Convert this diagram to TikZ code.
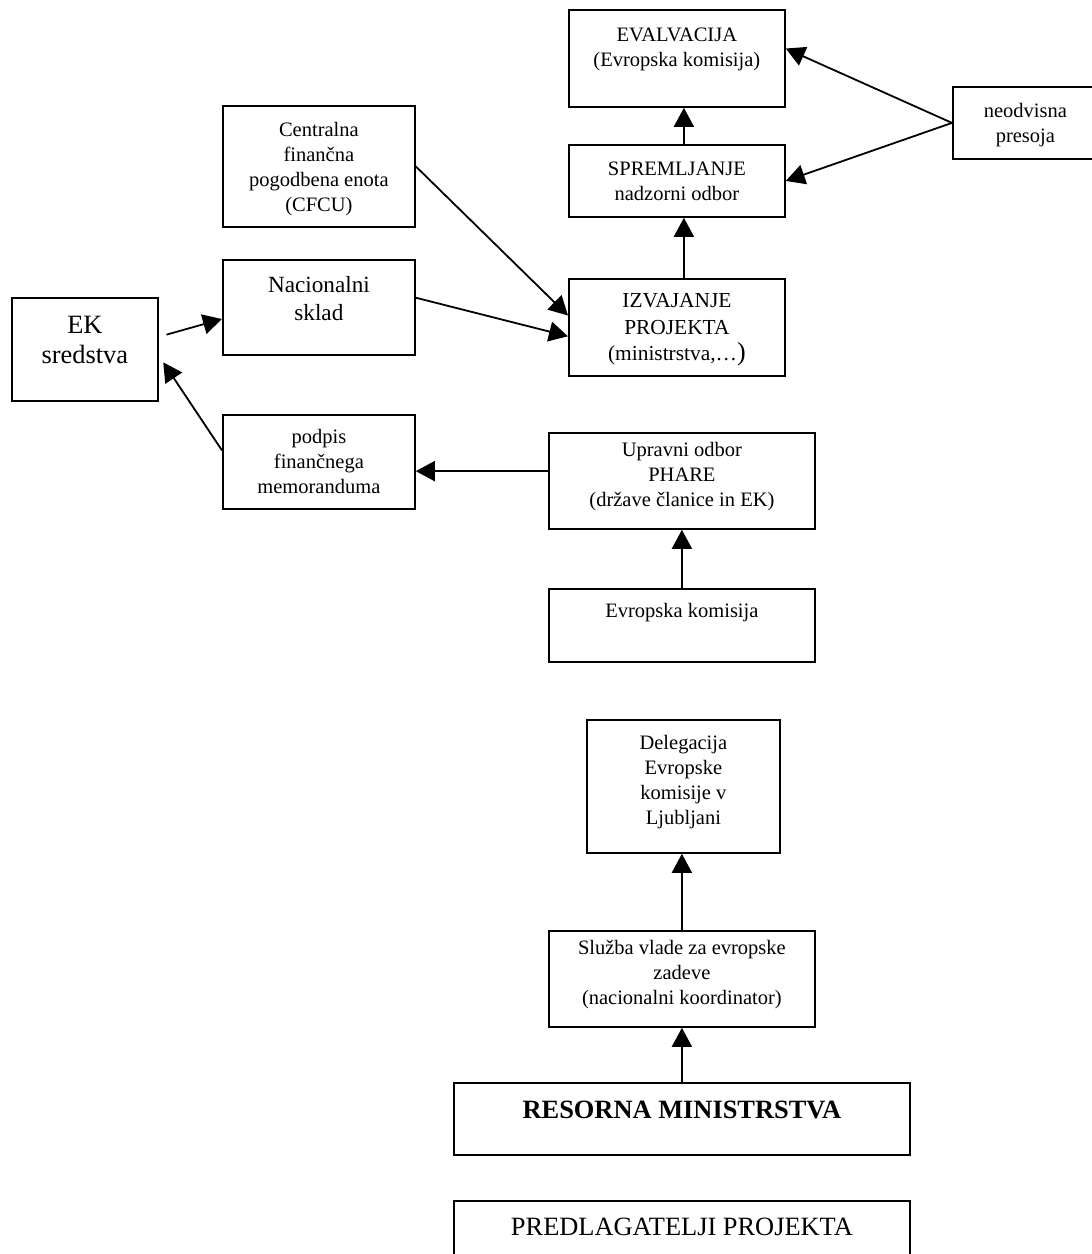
\documentclass[tikz,border=0pt]{standalone}
\usepackage{fontspec}
\setmainfont{Liberation Serif}
\usepackage{tikz}
\usetikzlibrary{arrows.meta, calc}

\newdimen\pxu \pxu=0.5pt
% text of a box: width, height, first baseline, lines (top aligned)
\newcommand{\blok}[4]{\parbox[t][#2\pxu][t]{#1\pxu}{\centering\rule{0pt}{#3\pxu}#4}}

\begin{document}
\begin{tikzpicture}[x=0.5pt, y=-0.5pt,
    box/.style={draw, line width=0.9pt, inner sep=0pt, anchor=north west},
    small/.style={font=\fontsize{10.25}{12.5}\selectfont},
    mid/.style={font=\fontsize{10.7}{13.2}\selectfont},
    nac/.style={font=\fontsize{11.6}{14}\selectfont},
    big/.style={font=\fontsize{13.2}{15}\selectfont},
    arr/.style={-{Triangle[length=9.5pt, width=10pt]}, line width=0.9pt}]
    \useasboundingbox (0,0) rectangle (1092,1254);

    % upper column
    \node[box, small] (eval) at (568,9) {\blok{216}{97}{32}{EVALVACIJA\\(Evropska komisija)}};
    \node[box, small] (sprem) at (568,144) {\blok{216}{72}{31}{SPREMLJANJE\\nadzorni odbor}};
    \node[box, mid] (izv) at (568,278) {\blok{216}{97}{29}{IZVAJANJE\\PROJEKTA\\(ministrstva,…{\fontsize{13}{13}\selectfont)}}};
    \node[box, small] (neod) at (952,86) {\blok{145}{72}{31}{neodvisna\\presoja}};

    % left side
    \node[box, small] (cent) at (222,105) {\blok{192}{121}{31}{Centralna\\finančna\\pogodbena enota\\(CFCU)}};
    \node[box, nac] (nac) at (222,259) {\blok{192}{95}{33}{Nacionalni\\sklad}};
    \node[box, big] (ek) at (11,297) {\blok{146}{103}{36}{EK\\sredstva}};
    \node[box, small] (podpis) at (222,414) {\blok{192}{94}{29}{podpis\\finančnega\\memoranduma}};

    % lower column
    \node[box, small] (upr) at (548,432) {\blok{266}{96}{24}{Upravni odbor\\PHARE\\(države članice in EK)}};
    \node[box, small] (evkom) at (548,588) {\blok{266}{73}{29}{Evropska komisija}};
    \node[box, small] (deleg) at (586,719) {\blok{193}{133}{30}{Delegacija\\Evropske\\komisije v\\Ljubljani}};
    \node[box, small] (sluzba) at (548,930) {\blok{266}{96}{24}{Služba vlade za evropske\\zadeve\\(nacionalni koordinator)}};
    \node[box, big] (resorna) at (453,1082) {\blok{456}{72}{36}{\textbf{RESORNA MINISTRSTVA}}};
    \node[box, big] (predl) at (453,1200) {\blok{456}{80}{35}{PREDLAGATELJI PROJEKTA}};

    \draw[arr] ([xshift=3.5pt]sprem.north) -- ([xshift=3.5pt]eval.south);
    \draw[arr] ([xshift=3.5pt]izv.north) -- ([xshift=3.5pt]sprem.south);
    \draw[arr] (neod.west) -- ($(eval.north east)!0.4!(eval.south east)$);
    \draw[arr] (neod.west) -- (sprem.east);
    \draw[arr] (cent.east) -- ($(izv.north west)!0.38!(izv.south west)$);
    \draw[arr] ($(nac.north east)!0.4!(nac.south east)$) -- ($(izv.north west)!0.59!(izv.south west)$);
    \draw[arr, shorten <=4pt] ($(ek.north east)!0.38!(ek.south east)$) -- ($(nac.north west)!0.62!(nac.south west)$);
    \draw[arr, shorten >=4pt] ($(podpis.north west)!0.38!(podpis.south west)$) -- ($(ek.north east)!0.56!(ek.south east)$);
    \draw[arr] ($(upr.north west)!0.4!(upr.south west)$) coordinate (u) -- (u -| podpis.east);
    \draw[arr] (evkom.north) -- (upr.south);
    \draw[arr] (sluzba.north) -- (sluzba.north |- deleg.south);
    \draw[arr] (resorna.north) -- (sluzba.south);
\end{tikzpicture}
\end{document}
